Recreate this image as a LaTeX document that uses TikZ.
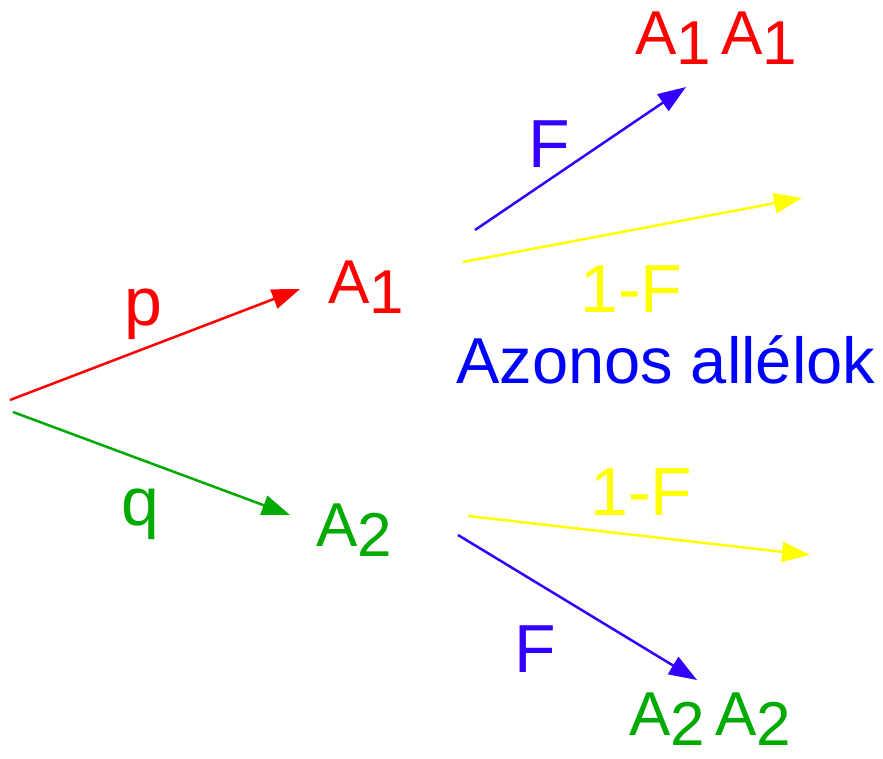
\documentclass[tikz,border=0pt]{standalone}
\usepackage{fontspec}
\setmainfont{Liberation Sans}
\usetikzlibrary{arrows.meta, positioning}
\definecolor{allred}{RGB}{255, 0, 0}
\definecolor{allgreen}{RGB}{0, 170, 0}
\definecolor{fblue}{RGB}{51, 0, 255}
\definecolor{fyellow}{RGB}{255, 255, 0}
\definecolor{titleblue}{RGB}{0, 0, 255}
\newcommand{\genA}[1]{A\raisebox{-10pt}{#1}}

\begin{document}
\begin{tikzpicture}[
  x=1pt, y=-1pt,
  gene/.style = {inner sep=0pt, anchor=base west, font=\fontsize{62}{70}\selectfont},
  prob/.style = {inner sep=0pt, anchor=base west, font=\fontsize{68}{76}\selectfont},
  arr/.style = {-{Triangle[length=28pt, width=20pt]}, line width=2.5pt}
]
\useasboundingbox (0,0) rectangle (883,759);
\node[gene, text=allred]   (a1)   at (328,303) {\genA{1}};
\node[gene, text=allgreen] (a2)   at (316,546) {\genA{2}};
\node[gene, text=allred]   (a1a1) at (635,55)  {\genA{1}\,\genA{1}};
\node[gene, text=allgreen] (a2a2) at (629,735) {\genA{2}\,\genA{2}};
\node[prob, text=allred]   (p)    at (124,325) {p};
\node[prob, text=allgreen] (q)    at (121,525) {q};
\node[prob, text=fblue]    (f1)   at (528,168) {F};
\node[prob, text=fblue]    (f2)   at (514,672) {F};
\node[prob, text=fyellow]  (nf1)  at (580,312) {1-F};
\node[prob, text=fyellow]  (nf2)  at (590,515) {1-F};
\node[inner sep=0pt, anchor=base west, text=titleblue,
      font=\fontsize{65}{72}\selectfont] (azonos) at (456,383) {Azonos allélok};
\coordinate (rootp) at (10,400);
\coordinate (rootq) at (13,412);
\coordinate (tipp)  at (300,289);
\coordinate (tipq)  at (290,515);
\coordinate (a1f)   at (475,230);
\coordinate (a1nf)  at (463,262);
\coordinate (a2nf)  at (468,516);
\coordinate (a2f)   at (458,535);
\coordinate (tipa1f)  at (686,87);
\coordinate (tipa1nf) at (802,198);
\coordinate (tipa2nf) at (810,555);
\coordinate (tipa2f)  at (697,680);
\draw[arr, allred]   (rootp) -- (tipp);
\draw[arr, allgreen] (rootq) -- (tipq);
\draw[arr, fblue]    (a1f)   -- (tipa1f);
\draw[arr, fyellow]  (a1nf)  -- (tipa1nf);
\draw[arr, fyellow]  (a2nf)  -- (tipa2nf);
\draw[arr, fblue]    (a2f)   -- (tipa2f);
\end{tikzpicture}
\end{document}
